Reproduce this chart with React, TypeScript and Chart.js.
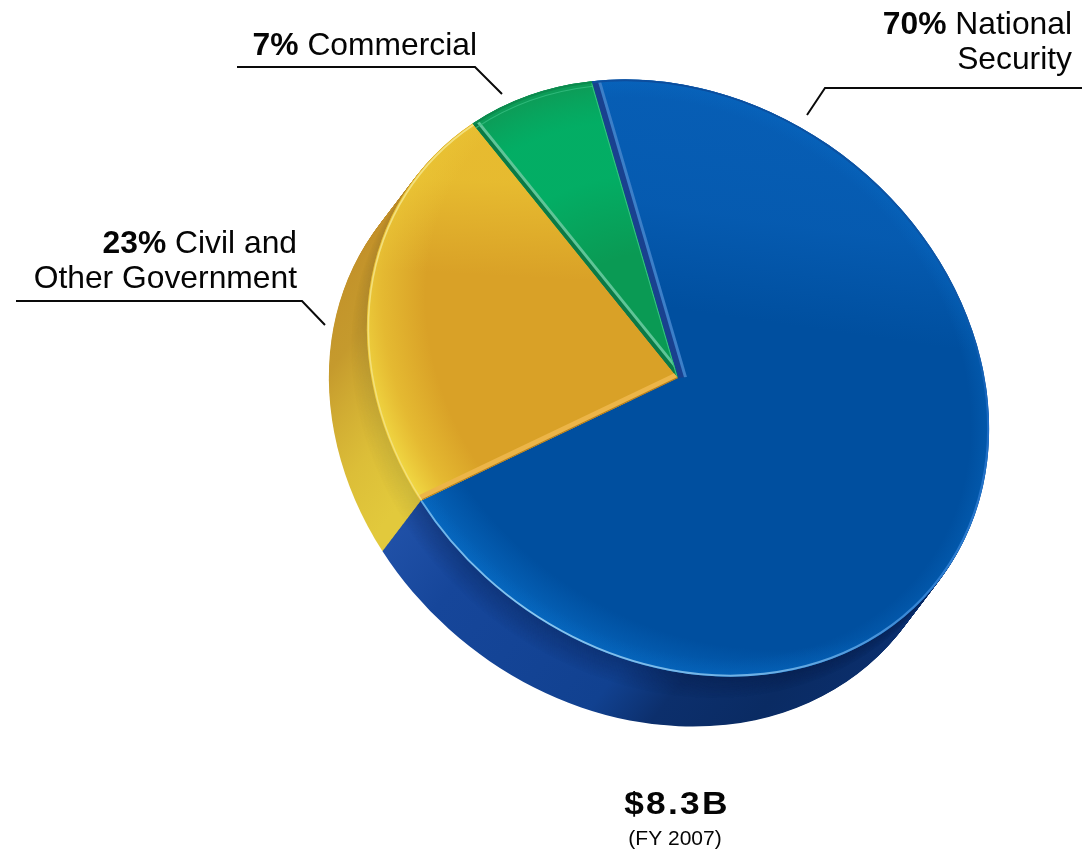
import { useEffect, useRef } from "react";
import { Chart, registerables } from "chart.js";

Chart.register(...registerables);

// Revenue split shown by the pie
const segmentNames = ["National Security", "Civil and Other Government", "Commercial"];
const segmentShares = [70, 23, 7];
const segmentColors = ["#004f9f", "#d9a127", "#0a9a54"];
const totalLabel = "$8.3B";
const periodLabel = "(FY 2007)";

// Text lines beside the pie: first line follows the bold share, second stands alone
const calloutFirstLines = ["National", "Civil and", "Commercial"];
const calloutSecondLines = ["Security", "Other Government", ""];

const FONT = '"Liberation Sans", Arial, sans-serif';
const PIE_RADIUS = 300;
const START_ANGLE = -15;

// Tilt of the top face and offset of the pie's bottom face, in canvas pixels
const TILT = { a: 1.037, b: 0.15, c: 0.02, d: 0.984, x: 678, y: 378 };
const DEPTH = { x: -38, y: 50, steps: 70 };

function applyTilt(ctx: CanvasRenderingContext2D, cx: number, cy: number, ox = 0, oy = 0) {
  const { a, b, c, d, x, y } = TILT;
  ctx.transform(a, b, c, d, x + ox - a * cx - c * cy, y + oy - b * cx - d * cy);
}

function slicePath(ctx: CanvasRenderingContext2D, arc: any) {
  ctx.beginPath();
  ctx.moveTo(arc.x, arc.y);
  ctx.arc(arc.x, arc.y, arc.outerRadius, arc.startAngle, arc.endAngle);
  ctx.closePath();
}

function linear(ctx: CanvasRenderingContext2D, x0: number, y0: number, x1: number, y1: number, stops: [number, string][]) {
  const g = ctx.createLinearGradient(x0, y0, x1, y1);
  stops.forEach(([p, c]) => g.addColorStop(p, c));
  return g;
}

function radial(ctx: CanvasRenderingContext2D, x: number, y: number, r: number, stops: [number, string][]) {
  const g = ctx.createRadialGradient(x, y, 0, x, y, r);
  stops.forEach(([p, c]) => g.addColorStop(p, c));
  return g;
}

// Side wall of the pie: the slice outline is swept towards the lower left
const wallPlugin = {
  id: "pieWall",
  beforeDatasetsDraw(chart: any) {
    const ctx: CanvasRenderingContext2D = chart.ctx;
    const arcs = chart.getDatasetMeta(0).data;
    const { x: cx, y: cy } = arcs[0];
    const r = PIE_RADIUS;
    const wallFills = [
      linear(ctx, cx - r * 0.93, 0, cx + r * 0.85, 0, [
        [0, "#2556ae"],
        [0.14, "#16469a"],
        [0.42, "#114190"],
        [0.53, "#0c2f6c"],
        [0.72, "#0a2b63"],
        [1, "#0b2f6e"],
      ]),
      linear(ctx, 0, cy - r * 0.7, 0, cy + r * 0.5, [
        [0, "#c18c28"],
        [0.55, "#c59a2d"],
        [0.85, "#dcbe38"],
        [1, "#e2c93c"],
      ]),
      "#0a8a4a",
    ];
    // The large blue wall goes last so its end face borders the gold wall
    [2, 1, 0].forEach((i) => {
      const arc = arcs[i];
      for (let s = DEPTH.steps; s >= 1; s--) {
        const t = s / DEPTH.steps;
        ctx.save();
        applyTilt(ctx, cx, cy, DEPTH.x * t, DEPTH.y * t);
        slicePath(ctx, arc);
        ctx.fillStyle = wallFills[i];
        ctx.fill();
        if (t < 0.45) {
          const shade = i === 0 ? 0.26 : 0.1;
          ctx.fillStyle = `rgba(0,10,40,${shade * (1 - t / 0.45)})`;
          ctx.fill();
        }
        ctx.restore();
      }
    });
    ctx.save();
    applyTilt(ctx, cx, cy);
  },
  afterDatasetsDraw(chart: any) {
    const ctx: CanvasRenderingContext2D = chart.ctx;
    const arcs = chart.getDatasetMeta(0).data;
    const { x: cx, y: cy } = arcs[0];
    const r = PIE_RADIUS;
    const [blue, gold, green] = arcs;

    const rimGlow = (arc: any, fill: CanvasGradient) => {
      ctx.save();
      slicePath(ctx, arc);
      ctx.clip();
      ctx.fillStyle = fill;
      ctx.fillRect(cx - r - 5, cy - r - 5, 2 * r + 10, 2 * r + 10);
      ctx.restore();
    };

    // Soft lighting on each top face
    rimGlow(blue, linear(ctx, 0, cy - r, 0, cy - 70, [
      [0, "rgba(10,100,190,0.7)"],
      [0.55, "rgba(10,100,190,0.55)"],
      [1, "rgba(10,100,190,0)"],
    ]));
    rimGlow(blue, radial(ctx, cx + 40, cy - 40, r + 56, [
      [0.86, "rgba(8,110,200,0)"],
      [1, "rgba(8,110,200,0.7)"],
    ]));
    rimGlow(blue, radial(ctx, cx, cy, r, [
      [0.94, "rgba(8,110,200,0)"],
      [1, "rgba(8,110,200,0.3)"],
    ]));
    rimGlow(gold, linear(ctx, cx - 60, cy - r, cx - 40, cy - 90, [
      [0, "rgba(231,188,48,1)"],
      [0.55, "rgba(231,188,48,0.95)"],
      [1, "rgba(231,188,48,0)"],
    ]));
    rimGlow(gold, radial(ctx, cx + 40, cy - 40, r + 53, [
      [0.8, "rgba(238,205,58,0)"],
      [0.92, "rgba(238,205,58,0.55)"],
      [1, "rgba(240,214,66,1)"],
    ]));
    rimGlow(green, radial(ctx, cx, cy, r, [
      [0.42, "rgba(0,180,106,0)"],
      [0.68, "rgba(0,180,106,0.75)"],
      [0.86, "rgba(0,180,106,0.75)"],
      [1, "rgba(14,154,86,1)"],
    ]));

    // Bevelled straight edges, each drawn inside the slice it belongs to
    const edge = (arc: any, angle: number, side: number, band: string, bandW: number, line: string, lineW: number) => {
      const ex = Math.cos(angle);
      const ey = Math.sin(angle);
      const nx = -ey * side;
      const ny = ex * side;
      ctx.save();
      slicePath(ctx, arc);
      ctx.clip();
      ctx.lineCap = "butt";
      ctx.beginPath();
      ctx.moveTo(cx, cy);
      ctx.lineTo(cx + ex * r, cy + ey * r);
      ctx.strokeStyle = band;
      ctx.lineWidth = bandW * 2;
      ctx.stroke();
      const off = bandW + lineW / 2 - 0.5;
      ctx.beginPath();
      ctx.moveTo(cx + nx * off, cy + ny * off);
      ctx.lineTo(cx + nx * off + ex * r, cy + ny * off + ey * r);
      ctx.strokeStyle = line;
      ctx.lineWidth = lineW;
      ctx.stroke();
      ctx.restore();
    };
    edge(blue, blue.startAngle, 1, "#19418f", 6.5, "#3c7fc8", 3);
    edge(green, green.startAngle, 1, "#0b7a46", 4.5, "#5fc597", 3);
    edge(green, green.endAngle, -1, "#0c9a58", 0.5, "#35c083", 1.2);
    edge(gold, gold.startAngle, 1, "#b57f20", 1.5, "#ecb548", 4.5);

    // Outer edge highlights
    const blueRim = ctx.createConicGradient(0, cx, cy);
    [
      [0, "#1d6cc4"],
      [0.1, "#2f7fd2"],
      [0.2, "#6aaee4"],
      [0.33, "#8cc6ee"],
      [0.4, "#6fb3e8"],
      [0.42, "#4a94da"],
      [0.5, "#1e5fb0"],
      [0.75, "#0b4c9c"],
      [0.95, "#0d58aa"],
      [1, "#1d6cc4"],
    ].forEach(([p, c]) => blueRim.addColorStop(p as number, c as string));
    const rimStroke = (arc: any, rad: number, style: any, width: number) => {
      ctx.beginPath();
      ctx.arc(cx, cy, rad, arc.startAngle, arc.endAngle);
      ctx.strokeStyle = style;
      ctx.lineWidth = width;
      ctx.stroke();
    };
    rimStroke(blue, r - 1, blueRim, 2);
    rimStroke(gold, r - 1.5, "#f3e07c", 1.5);
    rimStroke(green, r - 5, "rgba(60,195,135,0.7)", 1);
    rimStroke(green, r - 1, "#0c8a4e", 2);
    ctx.restore();
  },
};

function boldThenPlain(ctx: CanvasRenderingContext2D, bold: string, plain: string, right: number, y: number, size: number) {
  ctx.textAlign = "left";
  ctx.font = `${size}px ${FONT}`;
  const plainWidth = ctx.measureText(" " + plain).width;
  ctx.font = `bold ${size}px ${FONT}`;
  const boldWidth = ctx.measureText(bold).width;
  const left = right - plainWidth - boldWidth;
  ctx.fillText(bold, left, y);
  ctx.font = `${size}px ${FONT}`;
  ctx.fillText(" " + plain, left + boldWidth, y);
}

// Callouts with their leader lines, and the total below the pie
const textPlugin = {
  id: "pieText",
  afterDraw(chart: any) {
    const ctx: CanvasRenderingContext2D = chart.ctx;
    ctx.save();
    ctx.strokeStyle = "#0a0a0a";
    ctx.lineWidth = 2;
    ctx.lineJoin = "miter";
    [
      [[807, 115], [825, 88], [1082, 88]],
      [[237, 67], [475, 67], [502, 94]],
      [[16, 301], [302, 301], [325, 325]],
    ].forEach((pts) => {
      ctx.beginPath();
      pts.forEach(([x, y], k) => (k ? ctx.lineTo(x, y) : ctx.moveTo(x, y)));
      ctx.stroke();
    });

    ctx.fillStyle = "#050505";
    ctx.textBaseline = "alphabetic";
    const size = 31.8;
    const share = (i: number) => `${segmentShares[i]}%`;
    boldThenPlain(ctx, share(0), calloutFirstLines[0], 1072, 34, size);
    boldThenPlain(ctx, share(1), calloutFirstLines[1], 297, 253, size);
    boldThenPlain(ctx, share(2), calloutFirstLines[2], 477, 55, size);
    ctx.textAlign = "right";
    ctx.font = `${size}px ${FONT}`;
    ctx.fillText(calloutSecondLines[0], 1072, 69);
    ctx.fillText(calloutSecondLines[1], 297, 288);

    ctx.textAlign = "center";
    ctx.save();
    ctx.translate(677, 814);
    ctx.scale(1.14, 1);
    ctx.font = `bold 31px ${FONT}`;
    (ctx as any).letterSpacing = "2px";
    ctx.fillText(totalLabel, 0, 0);
    ctx.restore();
    ctx.font = `21px ${FONT}`;
    ctx.fillText(periodLabel, 675, 845);
    ctx.restore();
  },
};

export default function App() {
  const canvasRef = useRef<HTMLCanvasElement>(null);

  useEffect(() => {
    const chart = new Chart(canvasRef.current!, {
      type: "pie",
      data: {
        labels: segmentNames,
        datasets: [
          {
            data: segmentShares,
            backgroundColor: segmentColors,
            borderWidth: 0,
            clip: false,
          } as any,
        ],
      },
      options: {
        animation: false,
        responsive: false,
        radius: PIE_RADIUS,
        rotation: START_ANGLE,
        layout: { padding: 0 },
        plugins: { legend: { display: false }, tooltip: { enabled: false } },
      } as any,
      plugins: [wallPlugin, textPlugin],
    });
    return () => chart.destroy();
  }, []);

  return (
    <canvas
      ref={canvasRef}
      width={1090}
      height={850}
      style={{ position: "absolute", left: 0, top: 0, width: 1090, height: 850, background: "#ffffff" }}
    />
  );
}
